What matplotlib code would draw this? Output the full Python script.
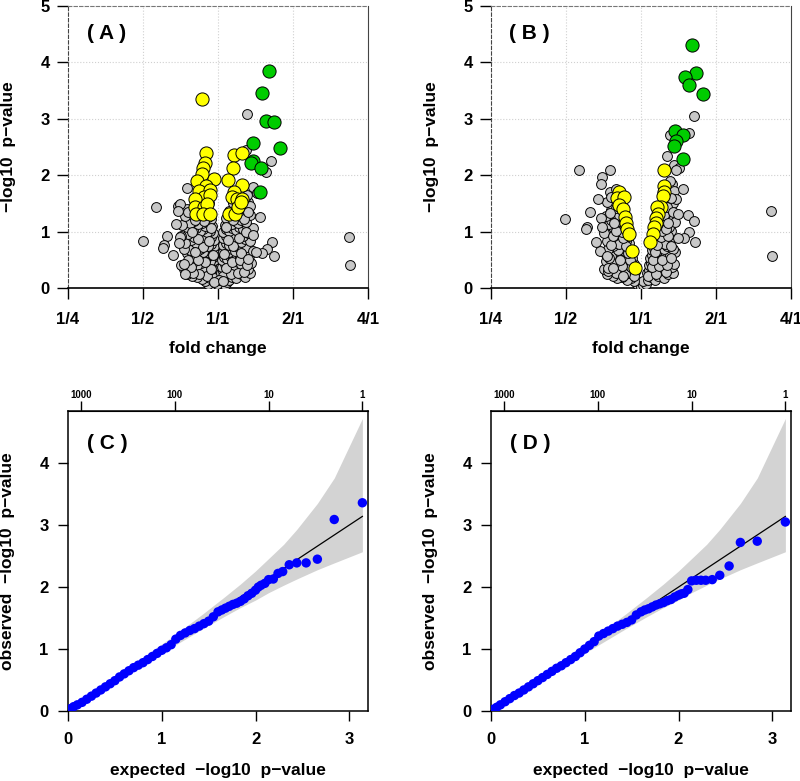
import matplotlib
matplotlib.use("Agg")
import matplotlib.pyplot as plt

plt.rcParams['font.family'] = ['Liberation Sans', 'DejaVu Sans']
plt.rcParams['font.weight'] = 'bold'
plt.rcParams['axes.labelweight'] = 'bold'

# ---- volcano data: (log2 fold change, -log10 p) ----
a_gray = [
    # left lobe
    (-0.02, 0.03), (-0.05, 0.06), (-0.09, 0.05), (-0.13, 0.08), (-0.04, 0.12), (-0.08, 0.14), (-0.17, 0.12),
    (-0.11, 0.18), (-0.22, 0.16), (-0.28, 0.20), (-0.35, 0.22), (-0.42, 0.25), (-0.03, 0.20),
    (-0.04, 0.28), (-0.07, 0.26), (-0.12, 0.30), (-0.16, 0.27), (-0.20, 0.32), (-0.25, 0.28), (-0.30, 0.35),
    (-0.38, 0.30), (-0.45, 0.33), (-0.05, 0.38), (-0.09, 0.40), (-0.14, 0.42), (-0.19, 0.38), (-0.23, 0.44),
    (-0.28, 0.40), (-0.33, 0.46), (-0.40, 0.42), (-0.50, 0.40),
    (-0.05, 0.50), (-0.08, 0.54), (-0.11, 0.48), (-0.15, 0.55), (-0.18, 0.50), (-0.22, 0.58), (-0.26, 0.52),
    (-0.30, 0.60), (-0.35, 0.55), (-0.42, 0.62), (-0.05, 0.62), (-0.09, 0.66), (-0.13, 0.63), (-0.17, 0.68),
    (-0.20, 0.64), (-0.24, 0.70), (-0.28, 0.66), (-0.33, 0.72), (-0.38, 0.68), (-0.46, 0.70),
    (-0.06, 0.74), (-0.10, 0.78), (-0.14, 0.75), (-0.18, 0.80), (-0.21, 0.76), (-0.25, 0.83), (-0.30, 0.79),
    (-0.36, 0.85), (-0.44, 0.80), (-0.06, 0.86), (-0.10, 0.90), (-0.15, 0.88), (-0.19, 0.93), (-0.23, 0.89),
    (-0.27, 0.95), (-0.32, 0.91), (-0.40, 0.96), (-0.50, 0.92),
    (-0.07, 0.98), (-0.11, 1.02), (-0.15, 0.99), (-0.20, 1.05), (-0.24, 1.01), (-0.29, 1.07), (-0.34, 1.03),
    (-0.42, 1.08), (-0.08, 1.10), (-0.13, 1.14), (-0.17, 1.10), (-0.22, 1.16), (-0.27, 1.13), (-0.32, 1.18),
    (-0.38, 1.15), (-0.48, 1.12),
    (-0.10, 1.22), (-0.14, 1.26), (-0.19, 1.23), (-0.23, 1.28), (-0.28, 1.25), (-0.35, 1.30), (-0.44, 1.27),
    (-0.12, 1.35), (-0.20, 1.38), (-0.26, 1.36), (-0.42, 1.40), (-0.53, 1.45), (-0.30, 1.50), (-0.16, 1.46),
    (-0.20, 1.55), (-0.12, 1.50),
    (-0.06, 0.17), (-0.15, 0.21), (-0.26, 0.24), (-0.33, 0.27), (-0.10, 0.34), (-0.18, 0.46), (-0.27, 0.49),
    (-0.36, 0.38), (-0.07, 0.58), (-0.20, 0.72), (-0.31, 0.64), (-0.40, 0.50), (-0.12, 0.84), (-0.27, 0.87),
    (-0.35, 0.99), (-0.09, 1.06), (-0.19, 1.19), (-0.31, 1.21), (-0.40, 1.34), (-0.15, 1.31), (-0.24, 1.45),
    # right lobe
    (0.02, 0.04), (0.05, 0.08), (0.09, 0.05), (0.12, 0.10), (0.04, 0.14), (0.08, 0.17), (0.15, 0.14),
    (0.19, 0.20), (0.24, 0.17), (0.30, 0.24), (0.36, 0.20), (0.43, 0.26),
    (0.04, 0.26), (0.07, 0.30), (0.11, 0.27), (0.15, 0.33), (0.19, 0.29), (0.23, 0.35), (0.28, 0.31),
    (0.33, 0.37), (0.40, 0.33), (0.05, 0.38), (0.09, 0.42), (0.13, 0.39), (0.17, 0.45), (0.21, 0.41),
    (0.26, 0.47), (0.31, 0.43), (0.37, 0.48), (0.44, 0.44),
    (0.05, 0.50), (0.08, 0.55), (0.12, 0.51), (0.16, 0.57), (0.20, 0.53), (0.24, 0.59), (0.29, 0.55),
    (0.34, 0.61), (0.41, 0.57), (0.06, 0.63), (0.10, 0.67), (0.14, 0.64), (0.18, 0.70), (0.22, 0.66),
    (0.27, 0.72), (0.32, 0.68), (0.38, 0.73), (0.46, 0.66),
    (0.06, 0.76), (0.10, 0.80), (0.14, 0.77), (0.18, 0.83), (0.22, 0.79), (0.26, 0.85), (0.31, 0.81),
    (0.36, 0.87), (0.43, 0.83), (0.07, 0.88), (0.11, 0.92), (0.15, 0.89), (0.19, 0.95), (0.23, 0.91),
    (0.28, 0.97), (0.33, 0.93), (0.40, 0.98),
    (0.07, 1.00), (0.11, 1.04), (0.15, 1.01), (0.19, 1.07), (0.24, 1.03), (0.28, 1.09), (0.33, 1.05),
    (0.39, 1.10), (0.46, 1.06), (0.09, 1.12), (0.13, 1.16), (0.18, 1.13), (0.22, 1.19), (0.27, 1.15),
    (0.31, 1.20), (0.37, 1.17),
    (0.11, 1.24), (0.16, 1.28), (0.21, 1.25), (0.26, 1.30), (0.30, 1.27), (0.35, 1.33), (0.42, 1.29),
    (0.14, 1.37), (0.24, 1.40), (0.33, 1.42), (0.38, 1.38), (0.40, 1.52), (0.30, 1.50), (0.36, 1.60),
    (0.20, 1.50), (0.38, 1.65), (0.42, 1.45),
    (0.07, 0.22), (0.17, 0.25), (0.27, 0.27), (0.35, 0.29), (0.10, 0.35), (0.19, 0.46), (0.29, 0.49),
    (0.39, 0.41), (0.08, 0.60), (0.20, 0.74), (0.30, 0.62), (0.40, 0.52), (0.13, 0.85), (0.28, 0.88),
    (0.37, 0.99), (0.10, 1.08), (0.20, 1.20), (0.34, 1.22), (0.40, 1.35), (0.18, 1.33), (0.28, 1.44),
    (-0.01, 0.08), (0.01, 0.15), (-0.06, 0.11), (0.06, 0.12),
    # scattered
    (0.39, 3.09), (0.37, 2.45), (0.71, 2.25), (0.64, 2.05), (0.46, 1.79), (0.52, 1.68), (0.56, 1.26),
    (0.46, 0.94), (0.72, 0.82), (0.65, 0.69), (0.58, 0.62), (0.51, 0.63), (0.74, 0.56), (1.74, 0.90),
    (1.76, 0.40), (-1.00, 0.83), (-0.83, 1.44), (-0.68, 0.92), (-0.72, 0.76), (-0.73, 0.71), (-0.60, 0.58),
    (-0.56, 1.14), (-0.51, 1.49), (-0.54, 1.36), (-0.41, 1.77), (-0.45, 0.43), (-0.44, 0.25), (-0.51, 0.90),
    (-0.52, 0.80),
]
a_yellow = [
    (-0.22, 3.36), (-0.16, 2.40), (-0.18, 2.21), (-0.20, 2.12), (-0.21, 2.02), (-0.28, 1.90), (-0.06, 1.94),
    (-0.16, 1.81), (-0.26, 1.72), (-0.11, 1.74), (-0.19, 1.62), (-0.31, 1.58), (-0.11, 1.65), (-0.31, 1.44),
    (-0.19, 1.43), (-0.15, 1.49), (-0.30, 1.31), (-0.20, 1.31), (-0.11, 1.31),
    (0.21, 2.35), (0.32, 2.40), (0.20, 2.12), (0.13, 1.91), (0.32, 1.82), (0.21, 1.71), (0.19, 1.62),
    (0.25, 1.57), (0.32, 1.58), (0.15, 1.31), (0.22, 1.32), (0.26, 1.44), (0.30, 1.52),
]
a_green = [
    (0.68, 3.84), (0.59, 3.45), (0.64, 2.96), (0.75, 2.95), (0.46, 2.57), (0.82, 2.48), (0.46, 2.26),
    (0.44, 2.22), (0.57, 2.12), (0.56, 1.71),
]

b_gray = [
    # bottom of the V
    (-0.03, 0.03), (-0.06, 0.07), (-0.02, 0.10), (0.00, 0.02), (0.03, 0.05), (0.06, 0.08), (0.02, 0.12),
    (0.09, 0.14), (-0.10, 0.13), (-0.14, 0.18), (-0.19, 0.15), (-0.25, 0.20), (-0.32, 0.17), (-0.38, 0.22),
    (-0.45, 0.25), (0.13, 0.19), (0.18, 0.15), (0.23, 0.21), (0.30, 0.18), (0.36, 0.24), (0.42, 0.27),
    # left lobe
    (-0.08, 0.28), (-0.12, 0.32), (-0.16, 0.27), (-0.20, 0.34), (-0.25, 0.30), (-0.30, 0.36), (-0.36, 0.31),
    (-0.42, 0.37), (-0.50, 0.33), (-0.10, 0.42), (-0.14, 0.46), (-0.18, 0.41), (-0.22, 0.47), (-0.27, 0.43),
    (-0.32, 0.49), (-0.39, 0.45), (-0.47, 0.48),
    (-0.12, 0.53), (-0.16, 0.57), (-0.20, 0.52), (-0.24, 0.59), (-0.29, 0.55), (-0.34, 0.61), (-0.40, 0.56),
    (-0.48, 0.62), (-0.14, 0.66), (-0.18, 0.70), (-0.22, 0.65), (-0.26, 0.72), (-0.31, 0.68), (-0.37, 0.74),
    (-0.44, 0.70), (-0.55, 0.66),
    (-0.16, 0.80), (-0.20, 0.84), (-0.24, 0.79), (-0.28, 0.86), (-0.33, 0.82), (-0.38, 0.88), (-0.45, 0.84),
    (-0.18, 0.93), (-0.22, 0.97), (-0.26, 0.92), (-0.30, 0.99), (-0.35, 0.95), (-0.41, 1.01), (-0.50, 0.97),
    (-0.20, 1.06), (-0.24, 1.10), (-0.28, 1.05), (-0.32, 1.12), (-0.37, 1.08), (-0.43, 1.14), (-0.22, 1.19),
    (-0.26, 1.23), (-0.30, 1.18), (-0.35, 1.25), (-0.40, 1.21), (-0.47, 1.27),
    (-0.25, 1.33), (-0.30, 1.37), (-0.35, 1.32), (-0.40, 1.39), (-0.27, 1.46), (-0.32, 1.50), (-0.38, 1.45),
    (-0.45, 1.52), (-0.30, 1.60), (-0.35, 1.64), (-0.42, 1.70), (-0.33, 1.75), (-0.40, 1.62),
    (-0.09, 0.22), (-0.21, 0.24), (-0.34, 0.27), (-0.44, 0.30), (-0.13, 0.37), (-0.25, 0.39), (-0.36, 0.42),
    (-0.15, 0.50), (-0.28, 0.50), (-0.43, 0.53), (-0.17, 0.62), (-0.30, 0.78), (-0.40, 0.77), (-0.20, 0.75),
    (-0.24, 0.89), (-0.38, 0.93), (-0.26, 1.00), (-0.33, 1.02), (-0.29, 1.29), (-0.36, 1.15), (-0.34, 1.42),
    (-0.42, 1.33),
    # right lobe
    (0.08, 0.27), (0.11, 0.32), (0.15, 0.28), (0.19, 0.34), (0.24, 0.30), (0.29, 0.36), (0.35, 0.32),
    (0.41, 0.38), (0.10, 0.41), (0.13, 0.45), (0.17, 0.42), (0.21, 0.48), (0.26, 0.44), (0.31, 0.50),
    (0.38, 0.46), (0.44, 0.42),
    (0.12, 0.54), (0.15, 0.58), (0.19, 0.53), (0.23, 0.60), (0.27, 0.56), (0.32, 0.62), (0.38, 0.58),
    (0.45, 0.63), (0.14, 0.67), (0.17, 0.71), (0.21, 0.66), (0.25, 0.73), (0.30, 0.69), (0.35, 0.75),
    (0.42, 0.70),
    (0.16, 0.81), (0.20, 0.85), (0.24, 0.80), (0.28, 0.87), (0.33, 0.83), (0.38, 0.89), (0.18, 0.94),
    (0.22, 0.98), (0.26, 0.93), (0.30, 1.00), (0.35, 0.96), (0.40, 1.02),
    (0.20, 1.07), (0.24, 1.11), (0.28, 1.06), (0.32, 1.13), (0.37, 1.09), (0.22, 1.20), (0.26, 1.24),
    (0.30, 1.19), (0.34, 1.26), (0.39, 1.22), (0.45, 1.17),
    (0.25, 1.34), (0.29, 1.38), (0.33, 1.33), (0.38, 1.40), (0.27, 1.47), (0.31, 1.52), (0.36, 1.46),
    (0.42, 1.50), (0.33, 1.60), (0.38, 1.66), (0.35, 1.78), (0.41, 1.85), (0.38, 1.90), (0.44, 1.72),
    (0.47, 1.57),
    (0.09, 0.21), (0.20, 0.25), (0.33, 0.28), (0.14, 0.37), (0.24, 0.39), (0.35, 0.41), (0.16, 0.50),
    (0.28, 0.50), (0.40, 0.53), (0.18, 0.63), (0.32, 0.78), (0.40, 0.74), (0.21, 0.76), (0.26, 0.90),
    (0.36, 0.92), (0.28, 1.02), (0.33, 1.05), (0.30, 1.30), (0.36, 1.16), (0.35, 1.44), (0.42, 1.35),
    (0.40, 1.60),
    # scattered
    (0.70, 3.05), (0.64, 2.74), (0.38, 2.72), (0.35, 2.34), (0.44, 2.19), (0.51, 2.13), (0.46, 2.09),
    (0.56, 1.75), (0.62, 1.29), (0.49, 1.31), (0.71, 1.19), (0.64, 0.99), (0.57, 0.88), (0.49, 0.88),
    (0.72, 0.81), (1.73, 1.36), (1.75, 0.57), (-1.01, 1.22), (-0.83, 2.10), (-0.42, 2.09), (-0.52, 1.97),
    (-0.54, 1.85), (-0.58, 1.58), (-0.68, 1.34), (-0.72, 1.09), (-0.74, 1.04), (-0.60, 0.82), (-0.45, 0.57),
    (-0.44, 0.35), (-0.38, 0.35), (-0.53, 1.25), (-0.52, 1.09), (-0.24, 0.21),
]
b_yellow = [
    (-0.29, 1.71), (-0.32, 1.59), (-0.23, 1.62), (-0.30, 1.47), (-0.24, 1.40), (-0.21, 1.26), (-0.20, 1.15),
    (-0.19, 1.05), (-0.16, 0.96), (-0.12, 0.66), (-0.08, 0.35),
    (0.31, 2.10), (0.31, 1.81), (0.30, 1.71), (0.29, 1.63), (0.26, 1.44), (0.21, 1.43), (0.23, 1.32),
    (0.20, 1.25), (0.20, 1.16), (0.17, 1.08), (0.16, 0.96), (0.12, 0.81),
]
b_green = [
    (0.68, 4.31), (0.73, 3.82), (0.58, 3.75), (0.64, 3.60), (0.82, 3.44), (0.45, 2.78), (0.56, 2.72),
    (0.46, 2.61), (0.44, 2.52), (0.56, 2.28),
]

fc_ticks = [-2, -1, 0, 1, 2]
fc_labels = ['1/4', '1/2', '1/1', '2/1', '4/1']

# ---- QQ data ----
qq_expected = [0.00, 0.03, 0.06, 0.10, 0.15, 0.20, 0.25, 0.30, 0.35, 0.40,
               0.45, 0.50, 0.55, 0.60, 0.65, 0.70, 0.75, 0.80, 0.85, 0.90,
               0.95, 1.00, 1.05, 1.10, 1.15, 1.20, 1.25, 1.30, 1.35, 1.40,
               1.45, 1.50, 1.55, 1.60, 1.64, 1.68, 1.72, 1.76, 1.80, 1.84,
               1.88, 1.92, 1.96, 2.00, 2.03, 2.06, 2.10, 2.14, 2.19, 2.24,
               2.29, 2.36, 2.44, 2.54, 2.66, 2.84, 3.14]
c_observed = [0.02, 0.04, 0.07, 0.10, 0.14, 0.19, 0.24, 0.29, 0.34, 0.39,
              0.44, 0.49, 0.55, 0.60, 0.65, 0.70, 0.74, 0.78, 0.83, 0.88,
              0.93, 0.98, 1.02, 1.07, 1.16, 1.22, 1.26, 1.30, 1.33, 1.37,
              1.41, 1.45, 1.52, 1.60, 1.63, 1.66, 1.69, 1.72, 1.74, 1.77,
              1.81, 1.86, 1.90, 1.95, 2.00, 2.03, 2.06, 2.12, 2.13, 2.22,
              2.25, 2.36, 2.39, 2.39, 2.45, 3.09, 3.36]
d_observed = [0.02, 0.03, 0.06, 0.10, 0.15, 0.20, 0.25, 0.29, 0.34, 0.39,
              0.44, 0.49, 0.54, 0.59, 0.64, 0.69, 0.73, 0.78, 0.83, 0.88,
              0.94, 1.00, 1.06, 1.12, 1.21, 1.25, 1.29, 1.33, 1.37, 1.40,
              1.43, 1.47, 1.55, 1.60, 1.63, 1.65, 1.68, 1.71, 1.73, 1.75,
              1.78, 1.80, 1.84, 1.87, 1.89, 1.90, 1.96, 2.10, 2.11, 2.11,
              2.11, 2.12, 2.19, 2.34, 2.72, 2.74, 3.05]
band_x = [0.0, 0.5, 0.84, 1.14, 1.44, 1.66, 1.84, 2.0, 2.14, 2.3, 2.44, 2.66, 2.84, 3.14]
band_hi = [0.0, 0.54, 0.91, 1.23, 1.57, 1.83, 2.05, 2.26, 2.46, 2.69, 2.93, 3.35, 3.76, 4.72]
band_lo = [0.0, 0.46, 0.78, 1.06, 1.33, 1.52, 1.67, 1.79, 1.91, 2.03, 2.13, 2.28, 2.39, 2.57]
rank_pos = [0.14, 1.14, 2.14, 3.14]
rank_labels = ['1000', '100', '10', '1']

ylab = '\u2212log10  p\u2212value'


def volcano(ax, gray, yellow, green, tag):
    for v in fc_ticks[1:-1]:
        ax.axvline(v, color='#d0d0d0', ls=':', lw=0.8, zorder=1)
    for h in [1, 2, 3, 4]:
        ax.axhline(h, color='#d0d0d0', ls=':', lw=0.8, zorder=1)
    for pts, col, size in [(gray, '#c8c8c8', 50), (yellow, '#ffff00', 90), (green, '#00cc00', 90)]:
        x, y = zip(*pts)
        ax.scatter(x, y, s=size, c=col, edgecolors='black', linewidths=0.7, zorder=3)
    ax.set_xlim(-2, 2)
    ax.set_ylim(0, 5)
    ax.set_xticks(fc_ticks)
    ax.set_xticklabels(fc_labels)
    ax.set_yticks(range(6))
    ax.tick_params(axis='x', length=8, width=1, labelsize=12, pad=9)
    ax.tick_params(axis='y', length=8, width=1, labelsize=12, pad=5)
    ax.spines['bottom'].set_linewidth(1.2)
    ax.spines['top'].set_linestyle((0, (3, 2)))
    ax.spines['top'].set_color('#777777')
    ax.spines['left'].set_linestyle((0, (3, 2)))
    ax.spines['left'].set_color('#444444')
    ax.spines['right'].set_color('#444444')
    ax.text(0.5, -0.213, 'fold change', transform=ax.transAxes, ha='center', va='center', fontsize=12.5)
    ax.text(-0.197, 0.5, ylab, transform=ax.transAxes, ha='center', va='center', rotation=90, fontsize=12.5)
    ax.text(0.127, 0.904, tag, transform=ax.transAxes, ha='center', va='center', fontsize=15)


def qqplot(ax, obs, tag):
    ax.fill_between(band_x, band_lo, band_hi, color='#d3d3d3', lw=0, zorder=1)
    ax.plot([0, 3.14], [0, 3.14], color='black', lw=0.9, zorder=2)
    ax.scatter(qq_expected, obs, s=46, c='#0000ff', edgecolors='none', zorder=3)
    ax.set_xlim(0, 3.2)
    ax.set_ylim(0, 4.84)
    ax.set_xticks([0, 1, 2, 3])
    ax.set_yticks([0, 1, 2, 3, 4])
    ax.tick_params(axis='x', length=7, width=1, labelsize=12, pad=8)
    ax.tick_params(axis='y', length=7, width=1, labelsize=12, pad=7)
    for s in ax.spines.values():
        s.set_linewidth(1.1)
    top = ax.secondary_xaxis('top', functions=(lambda v: v, lambda v: v))
    top.set_xticks(rank_pos)
    top.set_xticklabels(rank_labels)
    top.tick_params(length=7, width=1, labelsize=7, pad=1)
    ax.text(0.5, -0.197, 'expected  ' + ylab, transform=ax.transAxes, ha='center', va='center', fontsize=12.5)
    ax.text(-0.2, 0.5, 'observed  ' + ylab, transform=ax.transAxes, ha='center', va='center', rotation=90,
            fontsize=12.5)
    ax.text(0.13, 0.893, tag, transform=ax.transAxes, ha='center', va='center', fontsize=15)


fig = plt.figure(figsize=(8, 7.81), dpi=100)
ax_a = fig.add_axes([0.085, 0.6312, 0.375, 0.3611])
ax_b = fig.add_axes([0.61375, 0.6312, 0.375, 0.3611])
ax_c = fig.add_axes([0.085, 0.0896, 0.375, 0.3841])
ax_d = fig.add_axes([0.61375, 0.0896, 0.375, 0.3841])

volcano(ax_a, a_gray, a_yellow, a_green, '( A )')
volcano(ax_b, b_gray, b_yellow, b_green, '( B )')
qqplot(ax_c, c_observed, '( C )')
qqplot(ax_d, d_observed, '( D )')

fig.savefig('out.png', dpi=100)
